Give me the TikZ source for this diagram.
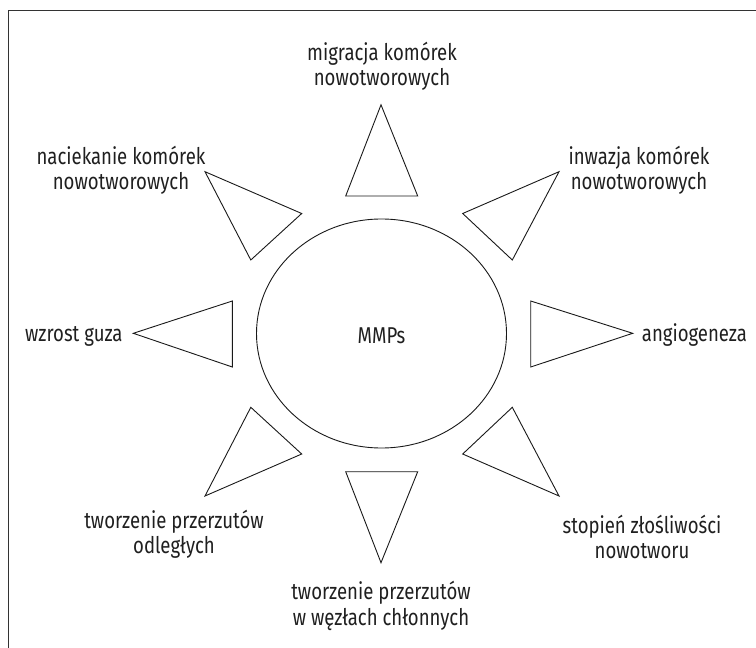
\documentclass[tikz,border=0pt]{standalone}
\usepackage{fontspec}
\setmainfont{Fira Sans}[FakeStretch=0.81]
\usetikzlibrary{shapes.geometric}
\begin{document}
\begin{tikzpicture}[x=1bp,y=-1bp,
  lbl/.style={align=center,inner sep=0pt,text=black!88,font=\fontsize{23}{25.5}\selectfont},
  ray/.style={draw=black!90,line width=0.9bp,line join=miter},
  frameline/.style={draw=black!80,line width=1.3bp}]
\useasboundingbox (0,0) rectangle (756,648);
\draw[frameline] (756,10.5) -- (8.5,10.5) -- (8.5,648);
% centre
\node[ray,ellipse,minimum width=250bp,minimum height=229bp,inner sep=0pt] (mmp) at (381.5,333.5) {};
\node[lbl] (mmpt) at (381.5,336) {MMPs};
% rays
\draw[ray] (381,104.8) -- (417.7,196) -- (345.7,196) -- cycle;
\draw[ray] (381,562.7) -- (417.7,471.7) -- (345.7,471.7) -- cycle;
\draw[ray] (133.3,333.3) -- (232.3,301) -- (232.3,367) -- cycle;
\draw[ray] (632.7,333.3) -- (530.7,301) -- (530.7,367) -- cycle;
\draw[ray] (205,171.7) -- (301.7,213.5) -- (250.8,260) -- cycle;
\draw[ray] (559,171.7) -- (462.7,213.5) -- (512.3,260) -- cycle;
\draw[ray] (205,496) -- (301.7,454) -- (250.8,407.3) -- cycle;
\draw[ray] (559,496) -- (462.7,454) -- (512.3,407.3) -- cycle;
% labels
\node[lbl] (t1) at (382,66) {migracja komórek\\nowotworowych};
\node[lbl] (t2) at (639,170) {inwazja komórek\\nowotworowych};
\node[lbl,anchor=base west] (t3) at (641.7,341.7) {angiogeneza};
\node[lbl] (t4) at (642,537) {stopień złośliwości\\nowotworu};
\node[lbl] (t5) at (381,606) {tworzenie przerzutów\\w węzłach chłonnych};
\node[lbl] (t6) at (174,534) {tworzenie przerzutów\\odległych};
\node[lbl,anchor=base east] (t7) at (122.7,341.7) {wzrost guza};
\node[lbl] (t8) at (121,170) {naciekanie komórek\\nowotworowych};
\end{tikzpicture}
\end{document}
